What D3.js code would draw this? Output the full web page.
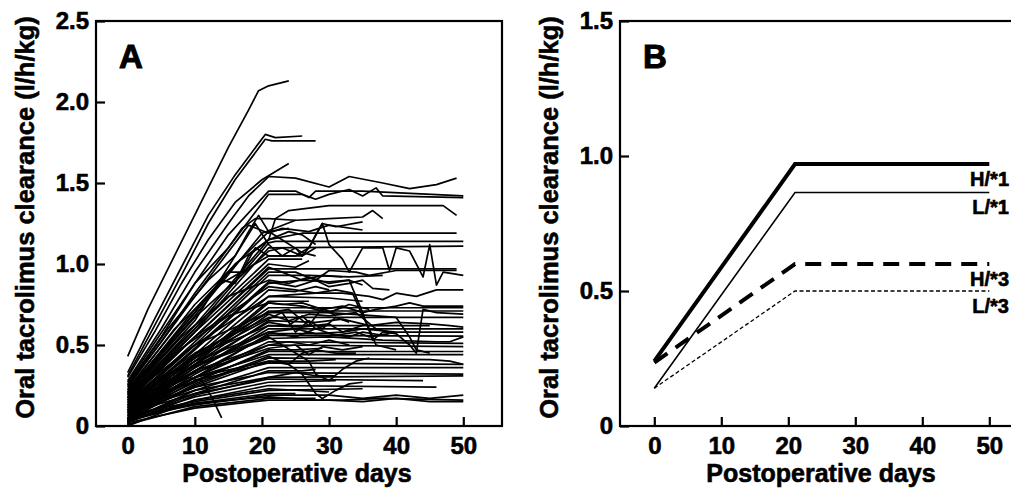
<!DOCTYPE html>
<meta charset="utf-8">
<style>
html, body { margin: 0; padding: 0; overflow: hidden; background: #fff; }
svg { display: block; font-family: "Liberation Sans", Arial, sans-serif; font-weight: bold; }
svg text { fill: #000; stroke: #000; stroke-width: 0.6px; }
.frame { fill: none; stroke: #000; stroke-width: 2.2px; }
.tick line { stroke: #000; stroke-width: 2.2px; }
.tick text { font-size: 24px; }
.pt { fill: none; stroke: #000; stroke-width: 1.7px; stroke-linejoin: round; }
</style>
<body>
<script src="https://d3js.org/d3.v7.min.js"></script>
<script>

// ---- data ----
var dayTicks = [0, 10, 20, 30, 40, 50];
var clTicksA = [0, 0.5, 1.0, 1.5, 2.0, 2.5];
var clTicksB = [0, 0.5, 1.0, 1.5];

// panel A: individual patient curves, [day, clearance (l/h/kg)]
var patients = [
  [[0,.43],[3,.72],[6,.97],[9,1.22],[12,1.47],[15,1.72],[18,1.95],[19.5,2.07],[21,2.1],[24,2.13]],
  [[0,.33],[4,.66],[8,.98],[12,1.3],[16,1.55],[20.5,1.8],[22,1.78],[26,1.79]],
  [[0,.31],[4,.62],[8,.93],[12,1.25],[16,1.52],[20.5,1.77],[21.5,1.76],[28,1.76]],
  [[0,.3],[4,.58],[8,.88],[12,1.15],[16,1.38],[20,1.52],[24,1.62]],
  [[0,.28],[5,.6],[10,.95],[15,1.25],[18,1.42],[21,1.54],[25,1.53],[30,1.475],[33,1.54],[38,1.5],[42,1.465],[46,1.49],[49,1.53]],
  [[0,.26],[5,.55],[10,.88],[15,1.18],[21,1.45],[25,1.45],[27,1.41],[28,1.45],[35,1.45],[50,1.42]],
  [[0,.25],[5,.52],[10,.82],[15,1.1],[21,1.43],[26,1.43],[28,1.4],[30,1.43],[33,1.46],[35,1.42],[37,1.47],[38,1.42],[50,1.41]],
  [[0,.22],[10,.7],[16,1.0],[21,1.15],[22,1.28],[24,1.33],[30,1.36],[47,1.36],[49,1.3]],
  [[0,.2],[10,.68],[20,1.19],[25,1.27],[30,1.28],[35,1.29],[36.5,1.33],[38,1.28]],
  [[0,.24],[10,.8],[18,1.24],[21,1.19],[23,1.22],[27,1.2],[30,1.24],[35,1.21]],
  [[0,.18],[10,.62],[21,1.15],[26,1.19],[49,1.19]],
  [[0,.17],[10,.6],[21,1.13],[22,1.14],[50,1.14]],
  [[0,.16],[10,.58],[21,1.1],[50,1.11]],
  [[0,.2],[10,.65],[19,1.25],[21,1.12],[23,1.05],[25,1.1],[26,1.05],[27,1.1],[28,1.18],[29,1.25],[30,1.12],[32,1.03],[33,.95],[35,1.1],[38,1.1],[39,.96],[40,1.1],[42,1.08],[44,.92],[45,1.12],[46,.87],[47,.95],[50,.93]],
  [[0,.22],[7,.6],[14,.88],[21,1.05],[26,1.05]],
  [[0,.15],[10,.55],[21,.97],[30,.97],[49,.97]],
  [[0,.14],[10,.52],[21,.95],[25,.95],[28,.9],[30,.96],[34,.95],[36,.93],[40,.96],[45,.96],[49,.96]],
  [[0,.13],[10,.5],[21,.93],[27,.93],[33,.92],[38,.93]],
  [[0,.19],[8,.55],[15,.8],[21,.9],[24,.88],[27,.92],[30,.88],[33,.9],[35,.87]],
  [[0,.12],[10,.48],[21,.89],[25,.86],[28,.9],[30,.86],[33,.88],[35,.9],[36.5,.85],[39,.84]],
  [[0,.18],[10,.55],[21,.86],[25,.84],[28,.82],[32,.82],[36,.8],[38,.78],[40,.82],[43,.8],[46,.84],[50,.84]],
  [[0,.11],[10,.47],[21,.88],[26,.9],[30,.89],[33,.9],[35,.7],[36.5,.53],[38,.58],[40,.57]],
  [[0,.1],[10,.42],[21,.8],[30,.79],[35,.77]],
  [[0,.17],[8,.48],[15,.68],[21,.76],[23,.75],[26,.76],[29,.72],[32,.74],[35,.7],[37,.72],[40,.74],[42,.76],[44,.74],[48,.74],[50,.74]],
  [[0,.1],[10,.42],[21,.73],[50,.73]],
  [[0,.09],[10,.4],[21,.71],[50,.71]],
  [[0,.09],[10,.38],[21,.69],[24,.65],[27,.69],[30,.68],[34,.7],[37,.6],[40,.57],[42,.5],[43,.45],[44,.72],[46,.7],[50,.69]],
  [[0,.16],[10,.45],[21,.67],[50,.67]],
  [[0,.08],[10,.36],[21,.65],[28,.64],[32,.66],[36,.62],[40,.64],[45,.63],[48,.62],[50,.61]],
  [[0,.15],[10,.43],[21,.62],[45,.62]],
  [[0,.07],[10,.34],[21,.6],[50,.6]],
  [[0,.14],[10,.4],[21,.58],[25,.6],[28,.57],[32,.58],[35,.6],[40,.58],[50,.58]],
  [[0,.06],[10,.32],[21,.56],[50,.555]],
  [[0,.13],[10,.37],[21,.54],[30,.55],[38,.53],[46,.52],[48,.52],[50,.55]],
  [[0,.05],[10,.3],[21,.52],[50,.51]],
  [[0,.12],[10,.34],[21,.5],[50,.49]],
  [[0,.05],[10,.28],[21,.46],[50,.46]],
  [[0,.11],[10,.3],[21,.44],[50,.44]],
  [[0,.04],[10,.25],[21,.42],[45,.41],[48,.4],[50,.38]],
  [[0,.1],[10,.28],[21,.39],[50,.38]],
  [[0,.03],[10,.22],[21,.36],[50,.36]],
  [[0,.09],[10,.24],[21,.33],[50,.32]],
  [[0,.02],[10,.19],[21,.3],[50,.31]],
  [[0,.08],[10,.2],[21,.29],[44,.28]],
  [[0,.03],[10,.16],[21,.25],[46,.24]],
  [[0,.07],[10,.15],[21,.22],[35,.23]],
  [[0,.05],[10,.13],[21,.19],[30,.19],[35,.17],[40,.19],[45,.17],[50,.19]],
  [[0,.02],[10,.11],[21,.16],[30,.16],[35,.15],[40,.17],[45,.15],[50,.15]],
  [[0,.06],[10,.14],[21,.18],[28,.16],[32,.16],[38,.17],[50,.16]],
  [[0,.1],[10,.3],[21,.4],[24,.38],[26,.32],[28,.2],[29,.17],[31,.22],[33,.26],[35,.27]],
  [[0,.13],[10,.38],[21,.55],[25,.45],[27,.4],[28,.32],[30,.28],[32,.35],[34,.4],[36,.42]],
  [[0,.12],[5,.22],[9,.3],[11,.28],[12.5,.18],[14,.05]],
  [[0,.25],[6,.6],[12,.9],[16,1.05],[18,1.2],[19.5,1.3],[21,1.2],[23,1.15],[26,1.07],[28,1.05]],
  [[0,.2],[10,.7],[15,.95],[17,.95],[19,1.1],[21,1.05],[25,1.05],[27,1.1],[29,1.25],[31,1.23],[35,1.26]],
  [[0,.19],[10,.6],[21,1.03],[26,1.03]],
  [[0,.21],[10,.72],[14,.9],[16,.88],[18,1.05],[21,1.15],[24,1.2],[26,1.18],[28,1.12]],
  [[0,.16],[10,.55],[21,.98],[23,.95],[26,.9],[29,.93],[32,.92]],
  [[0,.08],[10,.4],[21,.77],[27,.77]],
  [[0,.07],[10,.38],[21,.76],[26,.74],[30,.7],[33,.75],[36,.72]],
  [[0,.12],[10,.38],[21,.64],[24,.62],[26,.68],[28,.6],[30,.63],[32,.58],[35,.62]],
  [[0,.06],[10,.3],[21,.57],[30,.57],[33,.55],[35,.58],[38,.56]],
  [[0,.11],[10,.33],[21,.48],[25,.5],[27,.44],[29,.49],[32,.47],[35,.49]],
  [[0,.04],[10,.26],[21,.43],[24,.38],[26,.45],[28,.47],[31,.45],[34,.45]],
  [[0,.09],[10,.22],[21,.3],[25,.33],[28,.31],[31,.31]],
  [[0,.05],[10,.18],[21,.27],[31,.28]],
  [[0,.0],[5,.08],[10,.16],[21,.23],[30,.21]],
  [[0,.14],[10,.42],[21,.66],[23,.7],[25,.58],[27,.65],[29,.6],[31,.67],[33,.64]],
  [[0,.18],[10,.5],[21,.7],[24,.72],[27,.62],[29,.73],[31,.68]],
  [[0,.15],[10,.5],[21,.8],[28,.82],[31,.84],[33.5,.82],[35,.68],[36,.6],[37,.5],[40,.47]],
  [[0,.13],[10,.44],[21,.7],[30,.7],[37,.68],[40,.67],[42,.55],[43,.47],[45,.45]],
  [[0,.1],[10,.36],[21,.58],[25,.55],[28,.6],[31,.56],[34,.58],[36,.55],[39,.57]],
  [[0,.08],[10,.3],[21,.5],[24,.52],[27,.5],[30,.53],[33,.5]],
  [[0,.06],[10,.24],[21,.4],[27,.4],[31,.41]],
  [[0,.04],[10,.2],[21,.34],[26,.34],[28,.35]],
  [[0,.03],[10,.14],[21,.2],[25,.2]],
  [[0,.23],[10,.75],[21,1.2],[24,1.22]],
  [[0,.21],[10,.67],[21,1.08],[23,1.1],[26,1.05],[28,1.1]],
  [[0,.17],[10,.58],[21,1.0],[25,.98],[27,1.02]],
  [[0,.11],[10,.44],[21,.84],[25,.83],[28,.86],[30,.84]],
  [[0,.09],[10,.34],[21,.62],[26,.61],[30,.63]],
  [[0,.07],[10,.27],[21,.47],[25,.47],[29,.48]],
  [[0,.01],[10,.12],[21,.17],[28,.17]],
  [[0,.27],[10,.88],[15,1.1],[17,1.22],[19,1.28],[21,1.28],[25,1.27]]
];

// panel B: population predictions by group
var popDays = [0, 21, 50];
var clH1 = [0.24, 0.97, 0.97];
var clL1 = [0.14, 0.865, 0.865];
var clH3 = [0.235, 0.60, 0.60];
var clL3 = [0.14, 0.50, 0.50];
var groupLabels = ["H/*1", "L/*1", "H/*3", "L/*3"];

// ---- layout ----
var svg = d3.select("body").append("svg")
    .attr("width", 1011)
    .attr("height", 490);

function drawPanel(left, top, w, h, x0off, x50off, yMax, yTicks, letter) {
    var g = svg.append("g");

    var x = d3.scaleLinear().domain([0, 50]).range([left + x0off, left + x50off]);
    var y = d3.scaleLinear().domain([0, yMax]).range([top + h, top]);

    // x axis, ticks point inwards
    var xa = g.append("g")
        .attr("transform", "translate(0," + (top + h) + ")")
        .call(d3.axisBottom(x).tickValues(dayTicks).tickSizeInner(-9).tickSizeOuter(0));
    xa.select(".domain").remove();
    xa.selectAll("text").attr("y", 28).attr("dy", null);

    var ya = g.append("g")
        .attr("transform", "translate(" + left + ",0)")
        .call(d3.axisLeft(y).tickValues(yTicks).tickSizeInner(-9).tickSizeOuter(0)
            .tickFormat(function (d) { return d === 0 ? "0" : d3.format(".1f")(d); }));
    ya.select(".domain").remove();
    ya.selectAll("text").attr("x", -7);

    g.append("rect")
        .attr("class", "frame")
        .attr("x", left).attr("y", top)
        .attr("width", w).attr("height", h);

    g.append("text")
        .attr("x", left + w / 2 - 2)
        .attr("y", 482)
        .attr("text-anchor", "middle")
        .style("font-size", "25px")
        .text("Postoperative days");

    g.append("text")
        .attr("transform", "translate(" + (left - 62) + "," + (top + h / 2 - 6) + ") rotate(-90)")
        .attr("text-anchor", "middle")
        .style("font-size", "25.5px")
        .text("Oral tacrolimus clearance (l/h/kg)");

    g.append("text")
        .attr("x", left + 23)
        .attr("y", top + 47)
        .style("font-size", "33px")
        .style("stroke-width", "1px")
        .text(letter);

    return {g: g, x: x, y: y};
}

// Panel A
var A = drawPanel(96, 21, 406, 405, 31.7, 367.3, 2.5, clTicksA, "A");
var lineA = d3.line()
    .x(function (d) { return A.x(d[0]); })
    .y(function (d) { return A.y(d[1]); });

A.g.selectAll(".pt")
    .data(patients)
    .enter().append("path")
    .attr("class", "pt")
    .attr("d", lineA);

// Panel B
var B = drawPanel(620, 21, 406, 405, 34.3, 369.3, 1.5, clTicksB, "B");
var lineB = d3.line()
    .x(function (d) { return B.x(d[0]); })
    .y(function (d) { return B.y(d[1]); });

function zipDays(vals) {
    return popDays.map(function (d, i) { return [d, vals[i]]; });
}

var groups = [
    {vals: clH1, w: 4, dash: null},
    {vals: clL1, w: 1.6, dash: null},
    {vals: clH3, w: 4, dash: "16,10"},
    {vals: clL3, w: 1.3, dash: "4,2.5"}
];

groups.forEach(function (s, i) {
    B.g.append("path")
        .datum(zipDays(s.vals))
        .attr("fill", "none")
        .attr("stroke", "#000")
        .attr("stroke-width", s.w)
        .attr("stroke-dasharray", s.dash)
        .attr("d", lineB);

    // labels sit just under each line, flush with the right edge
    B.g.append("text")
        .attr("x", 1009)
        .attr("y", B.y(s.vals[2]) + 22)
        .attr("text-anchor", "end")
        .style("font-size", "20px")
        .text(groupLabels[i]);
});

</script>
</body>
